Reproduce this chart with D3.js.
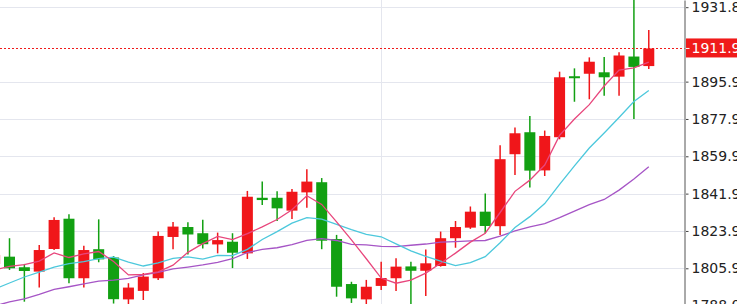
<!DOCTYPE html>
<html>
<head>
<meta charset="utf-8">
<script src="https://cdn.jsdelivr.net/npm/d3@7/dist/d3.min.js"></script>
<style>
  html, body { margin: 0; padding: 0; background: #ffffff; }
  svg { display: block; }
</style>
</head>
<body>
<svg id="chart" width="737" height="304"></svg>
<script>
// ---- data ----
const categories = d3.range(45).map(i => "K" + (i + 1));
const open  = [1808.0, 1811.5, 1806.4, 1804.3, 1815.2, 1829.8, 1801.1, 1815.1, 1811.1, 1790.9, 1795.0, 1801.1, 1821.0, 1825.8, 1822.8, 1817.4, 1818.7, 1813.1, 1839.9, 1839.9, 1833.7, 1842.5, 1847.4, 1820.0, 1798.3, 1790.9, 1797.4, 1801.1, 1806.8, 1804.7, 1807.0, 1820.4, 1825.5, 1833.2, 1826.2, 1860.9, 1871.5, 1853.1, 1869.1, 1898.5, 1899.7, 1900.4, 1898.3, 1908.0, 1903.4];
const high  = [1814.7, 1820.4, 1808.0, 1817.1, 1830.5, 1831.9, 1816.8, 1829.5, 1811.8, 1798.7, 1803.6, 1823.6, 1828.2, 1828.1, 1829.3, 1823.1, 1822.8, 1843.2, 1847.7, 1843.0, 1844.1, 1853.6, 1849.4, 1822.0, 1799.4, 1800.3, 1809.1, 1810.7, 1809.1, 1814.9, 1823.6, 1828.7, 1835.7, 1841.9, 1865.2, 1873.8, 1879.3, 1872.3, 1900.7, 1902.3, 1907.6, 1907.8, 1910.1, 1936.7, 1920.8];
const low   = [1806.0, 1805.1, 1789.8, 1796.6, 1814.7, 1798.7, 1796.6, 1808.8, 1788.9, 1787.2, 1790.6, 1800.3, 1815.1, 1812.5, 1815.4, 1813.1, 1806.0, 1810.4, 1836.4, 1828.7, 1829.7, 1835.1, 1815.1, 1792.2, 1789.2, 1787.7, 1795.4, 1795.0, 1785.8, 1792.5, 1806.7, 1815.8, 1824.9, 1822.8, 1822.0, 1850.9, 1844.9, 1850.4, 1868.1, 1886.2, 1887.4, 1889.1, 1889.1, 1877.9, 1902.0];
const close = [1812.3, 1805.9, 1804.6, 1814.7, 1829.2, 1801.1, 1814.7, 1810.2, 1791.0, 1796.6, 1801.9, 1821.5, 1826.0, 1822.2, 1817.5, 1819.5, 1813.4, 1840.4, 1838.8, 1834.8, 1842.8, 1847.7, 1819.2, 1797.0, 1791.4, 1797.0, 1801.2, 1806.7, 1804.7, 1808.3, 1820.4, 1825.8, 1833.2, 1826.3, 1858.5, 1871.0, 1853.0, 1869.7, 1898.0, 1897.7, 1905.5, 1898.0, 1908.5, 1903.0, 1911.9];
const ma5   = [1805.1, 1806.8, 1807.7, 1809.4, 1813.3, 1811.1, 1812.9, 1814.0, 1809.2, 1802.7, 1802.9, 1804.2, 1807.4, 1813.6, 1817.8, 1821.3, 1819.7, 1822.6, 1825.9, 1829.4, 1834.1, 1840.9, 1836.7, 1828.3, 1819.6, 1810.5, 1801.2, 1798.7, 1800.2, 1803.6, 1808.3, 1813.2, 1818.5, 1822.8, 1832.8, 1843.0, 1848.4, 1855.7, 1870.0, 1877.9, 1884.8, 1893.8, 1901.5, 1902.5, 1905.3];
const ma10  = [1795.9, 1798.8, 1801.7, 1804.1, 1806.5, 1808.2, 1809.1, 1810.6, 1811.3, 1808.9, 1807.0, 1808.5, 1810.7, 1811.4, 1810.3, 1812.1, 1812.0, 1815.0, 1819.8, 1823.6, 1827.7, 1830.3, 1829.6, 1827.1, 1824.5, 1822.3, 1821.1, 1817.7, 1814.3, 1811.6, 1809.4, 1807.2, 1808.6, 1811.5, 1818.2, 1825.6, 1830.8, 1837.1, 1846.4, 1855.3, 1863.9, 1871.1, 1878.6, 1886.3, 1891.6];
const ma20  = [1787.7, 1789.7, 1791.1, 1793.3, 1795.7, 1797.0, 1798.4, 1799.7, 1800.2, 1801.0, 1802.7, 1803.9, 1805.6, 1806.5, 1807.5, 1808.7, 1810.5, 1813.5, 1815.0, 1815.8, 1817.3, 1819.4, 1820.2, 1819.3, 1817.4, 1817.2, 1816.5, 1816.3, 1817.0, 1817.6, 1818.5, 1818.8, 1819.1, 1819.3, 1821.4, 1823.9, 1825.9, 1827.4, 1830.3, 1833.5, 1836.6, 1839.1, 1843.6, 1848.9, 1854.9];
const tickValues = [1788.0, 1805.9, 1823.9, 1841.9, 1859.9, 1877.9, 1895.9, 1931.8];
const tickLabels = ["1788.0", "1805.9", "1823.9", "1841.9", "1859.9", "1877.9", "1895.9", "1931.8"];
const lastPrice = 1911.9;
const lastPriceLabel = "1911.9";
const vGridCategory = "K27";

// ---- layout ----
const W = 737, H = 304;
const plotRight = 684.5;
const upColor = "#f0161a", downColor = "#12a012";

const svg = d3.select("#chart");

const x = d3.scaleBand()
  .domain(categories)
  .range([-12.8, -12.8 + 45 * 14.867])
  .paddingInner(0.26)
  .paddingOuter(0.13);
const cx = c => x(c) + x.bandwidth() / 2;

const y = d3.scaleLinear().domain([1788.68, 1935.26]).range([H, 0]);

// grid
const grid = svg.append("g");
grid.selectAll("line.h").data(tickValues).join("line")
  .attr("x1", 0).attr("x2", plotRight)
  .attr("y1", d => Math.round(y(d)) + 0.5).attr("y2", d => Math.round(y(d)) + 0.5)
  .attr("stroke", "#e4e6ee").attr("stroke-width", 1);
grid.append("line")
  .attr("x1", Math.round(cx(vGridCategory)) + 0.5).attr("x2", Math.round(cx(vGridCategory)) + 0.5)
  .attr("y1", 0).attr("y2", H)
  .attr("stroke", "#e4e6ee").attr("stroke-width", 1);

// candles
const candles = svg.append("g");
const rows = categories.map((c, i) => ({c, o: open[i], h: high[i], l: low[i], cl: close[i]}));
candles.selectAll("line").data(rows).join("line")
  .attr("x1", d => cx(d.c)).attr("x2", d => cx(d.c))
  .attr("y1", d => y(d.h)).attr("y2", d => y(d.l))
  .attr("stroke", d => d.cl >= d.o ? upColor : downColor)
  .attr("stroke-width", 1.5);
candles.selectAll("rect").data(rows).join("rect")
  .attr("x", d => x(d.c)).attr("width", x.bandwidth())
  .attr("y", d => y(Math.max(d.o, d.cl)))
  .attr("height", d => Math.max(2, Math.abs(y(d.o) - y(d.cl))))
  .attr("fill", d => d.cl >= d.o ? upColor : downColor);

// moving-average lines
const lineGen = arr => d3.line()
  .x((d, i) => cx(categories[i]))
  .y(d => y(d))(arr);
const maSeries = [
  {data: ma20, color: "#a655c6"},
  {data: ma10, color: "#4cc8dc"},
  {data: ma5,  color: "#e8467c"}
];
svg.append("g").selectAll("path").data(maSeries).join("path")
  .attr("d", d => lineGen(d.data))
  .attr("fill", "none")
  .attr("stroke", d => d.color)
  .attr("stroke-width", 1.3);

// last-price dotted line
svg.append("line")
  .attr("x1", 0).attr("x2", plotRight)
  .attr("y1", Math.round(y(lastPrice)) + 0.5).attr("y2", Math.round(y(lastPrice)) + 0.5)
  .attr("stroke", "#f01a1a").attr("stroke-width", 1)
  .attr("stroke-dasharray", "2,2");

// right axis
const axis = d3.axisRight(y)
  .tickValues(tickValues)
  .tickFormat((d, i) => tickLabels[i])
  .tickSize(4)
  .tickSizeOuter(0)
  .tickPadding(3);
const ag = svg.append("g").attr("transform", `translate(${plotRight},0)`).call(axis);
ag.select(".domain").attr("stroke", "#555");
ag.selectAll(".tick line").attr("stroke", "#444").attr("x1", 1.5);
ag.selectAll(".tick text")
  .attr("fill", "#222")
  .style("font-family", "'DejaVu Sans', Verdana, sans-serif")
  .style("font-size", "14px");

// last-price label
const ly = y(lastPrice);
const lab = svg.append("g");
lab.append("rect")
  .attr("x", plotRight + 1.5).attr("y", ly - 10).attr("width", W - plotRight).attr("height", 19)
  .attr("fill", "#f01a1a");
lab.append("line")
  .attr("x1", plotRight + 1.5).attr("x2", plotRight + 5)
  .attr("y1", ly).attr("y2", ly)
  .attr("stroke", "#fff").attr("stroke-width", 1);
lab.append("text")
  .attr("x", plotRight + 7).attr("y", ly).attr("dy", "0.36em")
  .attr("fill", "#fff")
  .style("font-family", "'DejaVu Sans', Verdana, sans-serif")
  .style("font-size", "14px")
  .text(lastPriceLabel);
</script>
</body>
</html>
